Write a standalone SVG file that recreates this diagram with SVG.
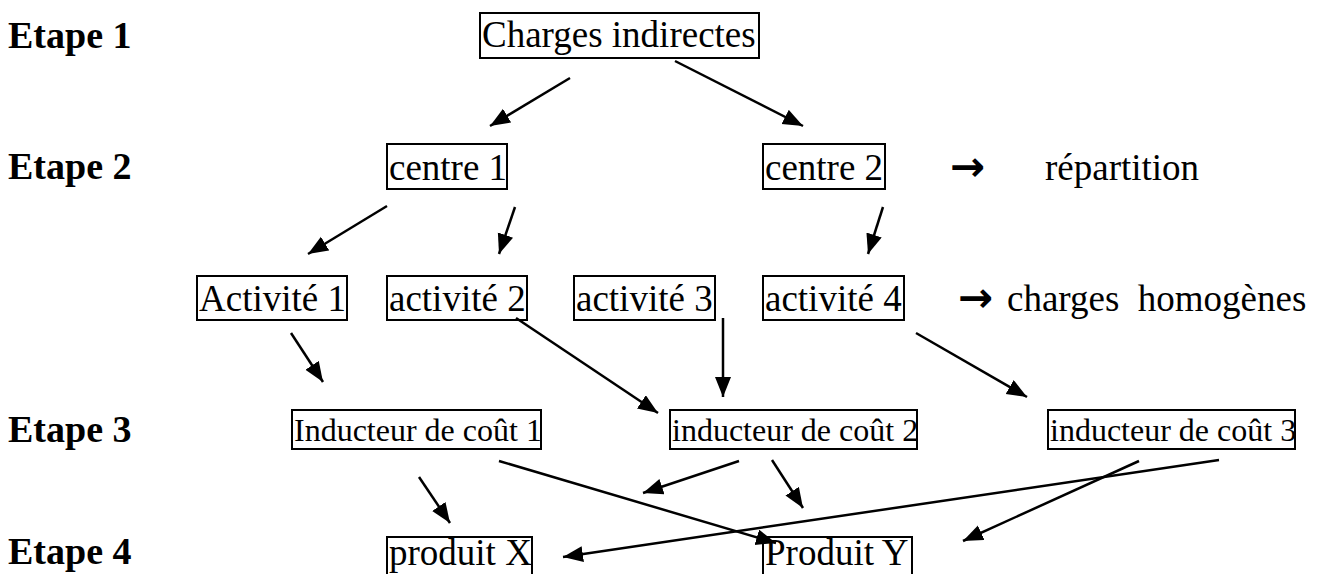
<svg xmlns="http://www.w3.org/2000/svg" width="1319" height="574" viewBox="0 0 1319 574">
<style>
  .box { fill: none; stroke: #000; stroke-width: 2; }
  .t { font-family: "Liberation Serif", "Times New Roman", serif; font-size: 37px; fill: #000; }
  .s { font-family: "Liberation Serif", "Times New Roman", serif; font-size: 32px; fill: #000; }
  .et { font-family: "Liberation Serif", "Times New Roman", serif; font-size: 38px; font-weight: bold; fill: #000; }
  .ar { font-family: "DejaVu Sans", sans-serif; font-size: 42px; font-weight: bold; fill: #000; }
  .c line { stroke: #000; stroke-width: 2.5; marker-end: url(#ah); }
</style>
<defs>
  <marker id="ah" markerUnits="userSpaceOnUse" markerWidth="22" markerHeight="18" refX="20" refY="8" orient="auto">
    <path d="M0,0 L20,8 L0,16 Z" fill="#000"/>
  </marker>
</defs>
<rect width="1319" height="574" fill="#fff"/>

<g id="etapes">
  <text class="et" x="8" y="48">Etape 1</text>
  <text class="et" x="8" y="179">Etape 2</text>
  <text class="et" x="8" y="442">Etape 3</text>
  <text class="et" x="8" y="564">Etape 4</text>
</g>

<g id="charges-indirectes">
  <rect class="box" x="480" y="13" width="279" height="45"/>
  <text class="t" x="482" y="47">Charges indirectes</text>
</g>
<g id="centre1">
  <rect class="box" x="387" y="144" width="120" height="45"/>
  <text class="t" x="389" y="180">centre 1</text>
</g>
<g id="centre2">
  <rect class="box" x="763" y="144" width="122" height="45"/>
  <text class="t" x="765" y="180">centre 2</text>
</g>
<g id="note-repartition">
  <text class="ar" x="950" y="181">→</text>
  <text class="t" x="1045" y="180">répartition</text>
</g>
<g id="activite1">
  <rect class="box" x="197" y="276" width="150" height="44"/>
  <text class="t" x="199" y="311">Activité 1</text>
</g>
<g id="activite2">
  <rect class="box" x="387" y="276" width="140" height="44"/>
  <text class="t" x="389" y="311">activité 2</text>
</g>
<g id="activite3">
  <rect class="box" x="574" y="276" width="141" height="44"/>
  <text class="t" x="576" y="311">activité 3</text>
</g>
<g id="activite4">
  <rect class="box" x="763" y="276" width="141" height="44"/>
  <text class="t" x="765" y="311">activité 4</text>
</g>
<g id="note-homogenes">
  <text class="ar" x="958" y="312">→</text>
  <text class="t" x="1007" y="311" xml:space="preserve">charges  homogènes</text>
</g>
<g id="inducteur1">
  <rect class="box" x="292" y="410" width="249" height="39"/>
  <text class="s" x="294" y="441">Inducteur de coût 1</text>
</g>
<g id="inducteur2">
  <rect class="box" x="670" y="410" width="247" height="39"/>
  <text class="s" x="672" y="441">inducteur de coût 2</text>
</g>
<g id="inducteur3">
  <rect class="box" x="1048" y="410" width="247" height="39"/>
  <text class="s" x="1050" y="441">inducteur de coût 3</text>
</g>
<g id="produitX">
  <rect class="box" x="387" y="537" width="145" height="46"/>
  <text class="t" x="389" y="565">produit X</text>
</g>
<g id="produitY">
  <rect class="box" x="763" y="537" width="149" height="46"/>
  <text class="t" x="765" y="565">Produit Y</text>
</g>

<g id="connectors" class="c">
  <line x1="570" y1="78" x2="490" y2="126"/>
  <line x1="675" y1="61" x2="803" y2="126"/>
  <line x1="387" y1="206" x2="308" y2="254"/>
  <line x1="515" y1="207" x2="499" y2="254"/>
  <line x1="883" y1="207" x2="868" y2="254"/>
  <line x1="291" y1="333" x2="323" y2="382"/>
  <line x1="516" y1="318" x2="658" y2="413"/>
  <line x1="723" y1="318" x2="723" y2="397"/>
  <line x1="916" y1="333" x2="1027" y2="397"/>
  <line x1="499" y1="461" x2="776" y2="543"/>
  <line x1="419" y1="477" x2="450" y2="523"/>
  <line x1="739" y1="461" x2="643" y2="493"/>
  <line x1="772" y1="460" x2="803" y2="508"/>
  <line x1="1219" y1="460" x2="563" y2="557"/>
  <line x1="1139" y1="461" x2="963" y2="541"/>
</g>
</svg>
